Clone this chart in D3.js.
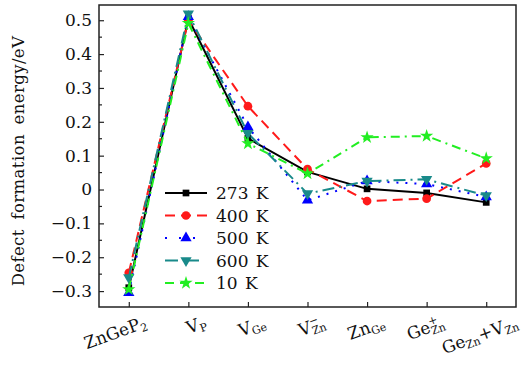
<!DOCTYPE html>
<html>
<head>
<meta charset="utf-8">
<script src="https://cdn.jsdelivr.net/npm/d3@7"></script>
<style>
  body { margin: 0; background: #fff; }
</style>
</head>
<body>
<svg width="529" height="369"></svg>
<script>
// categories along x (main text, subscript, superscript pieces)
const categories = [
  [['ZnGeP', ''], ['2', 'sub']],
  [['V', ''], ['P', 'sub']],
  [['V', ''], ['Ge', 'sub']],
  [['V', ''], ['−', 'sup'], ['Zn', 'sub']],
  [['Zn', ''], ['Ge', 'sub']],
  [['Ge', ''], ['+', 'sup'], ['Zn', 'sub']],
  [['Ge', ''], ['Zn', 'sub'], ['+V', ''], ['Zn', 'sub']]
];
const yTicks = [-0.3, -0.2, -0.1, 0, 0.1, 0.2, 0.3, 0.4, 0.5];

const t273 = [-0.29, 0.505, 0.151, 0.052, 0.002, -0.010, -0.038];
const t400 = [-0.246, 0.500, 0.246, 0.060, -0.034, -0.027, 0.077];
const t500 = [-0.305, 0.510, 0.185, -0.032, 0.025, 0.016, -0.022];
const t600 = [-0.260, 0.519, 0.166, -0.012, 0.025, 0.030, -0.018];
const t10 = [-0.295, 0.491, 0.136, 0.047, 0.154, 0.158, 0.092];

const series = [
  { name: '273 K', values: t273, color: '#000000', dash: null, sym: d3.symbolSquare, size: 45, rot: 0 },
  { name: '400 K', values: t400, color: '#ff1a1a', dash: '10,6', sym: d3.symbolCircle, size: 60, rot: 0 },
  { name: '500 K', values: t500, color: '#0000ff', dash: '2,7', sym: d3.symbolTriangle, size: 55, rot: 0 },
  { name: '600 K', values: t600, color: '#198a8a', dash: '12,5,2,5', sym: d3.symbolTriangle, size: 55, rot: 180 },
  { name: '10 K', values: t10, color: '#22ee22', dash: '9,5,2,5', sym: d3.symbolStar, size: 55, rot: 0 }
];

const FONT = '"DejaVu Serif", "Liberation Serif", serif';
const svg = d3.select('svg');
const mLeft = 99, mRight = 516, mTop = 5, mBottom = 307;

const x = d3.scaleLinear().domain([-0.5, 6.5]).range([mLeft, mRight]);
const y = d3.scaleLinear().domain([-0.347, 0.545]).range([mBottom, mTop]);

// frame
svg.append('rect')
  .attr('x', mLeft).attr('y', mTop)
  .attr('width', mRight - mLeft).attr('height', mBottom - mTop)
  .attr('fill', 'none').attr('stroke', '#222').attr('stroke-width', 1.5);

// y axis, ticks inward
const yAxis = svg.append('g').attr('transform', `translate(${mLeft},0)`)
  .call(d3.axisLeft(y).tickValues(yTicks).tickSizeInner(-5).tickSizeOuter(0).tickPadding(7)
    .tickFormat(d => d === 0 ? '0' : d3.format('.1f')(d).replace('-', '−')));
yAxis.select('.domain').remove();
yAxis.attr('font-family', FONT).attr('font-size', 17);
yAxis.selectAll('text').attr('fill', '#111');
yAxis.selectAll('line').attr('stroke', '#222').attr('stroke-width', 1.2);

// minor y ticks
const minor = d3.range(-0.35, 0.55, 0.1).map(v => +v.toFixed(2)).filter(v => v > -0.347);
svg.append('g').selectAll('line').data(minor).join('line')
  .attr('x1', mLeft).attr('x2', mLeft + 3)
  .attr('y1', d => y(d)).attr('y2', d => y(d))
  .attr('stroke', '#222').attr('stroke-width', 1.2);

// x axis ticks inward
const xAxis = svg.append('g').attr('transform', `translate(0,${mBottom})`)
  .call(d3.axisBottom(x).tickValues(d3.range(categories.length)).tickSizeInner(-5).tickSizeOuter(0).tickFormat(''));
xAxis.select('.domain').remove();
xAxis.selectAll('line').attr('stroke', '#222').attr('stroke-width', 1.2);

// x labels: each piece is its own text, laid out inside a rotated group
const xg = svg.append('g').selectAll('g').data(categories).join('g')
  .attr('transform', (d, i) => `translate(${x(i) + (i === 6 ? 33 : 19)},${mBottom + 20}) rotate(-20)`);
xg.each(function(d) {
  const g = d3.select(this);
  const inner = g.append('g');
  let cx = 0, lastW = 0;
  d.forEach(([txt, kind], j) => {
    const prev = j > 0 ? d[j - 1][1] : '';
    let px = cx;
    if (kind === 'sub' && prev === 'sup') px = cx - lastW;
    const t = inner.append('text')
      .attr('x', px)
      .attr('y', kind === 'sub' ? 3 : kind === 'sup' ? -7 : 0)
      .attr('font-family', FONT)
      .attr('font-size', kind ? 11 : 17)
      .attr('fill', '#111')
      .text(txt);
    const w = t.node().getComputedTextLength();
    lastW = w;
    cx = Math.max(cx, px + w);
  });
  inner.attr('transform', `translate(${-cx},0)`);
});

// y label
svg.append('text')
  .attr('transform', `translate(24,${161}) rotate(-90)`)
  .attr('text-anchor', 'middle')
  .attr('font-family', FONT)
  .attr('font-size', 16.5)
  .attr('letter-spacing', 0.4)
  .attr('word-spacing', 4)
  .attr('fill', '#111')
  .text('Defect formation energy/eV');

// lines and markers
const line = d3.line().x((d, i) => x(i)).y(d => y(d));
const plot = svg.append('g');
series.forEach(s => {
  plot.append('path').datum(s.values)
    .attr('d', line)
    .attr('fill', 'none')
    .attr('stroke', s.color)
    .attr('stroke-width', 2)
    .attr('stroke-dasharray', s.dash);
  plot.append('g').selectAll('path').data(s.values).join('path')
    .attr('d', d3.symbol(s.sym, s.size))
    .attr('transform', (d, i) => `translate(${x(i)},${y(d)}) rotate(${s.rot})`)
    .attr('fill', s.color);
});

// legend
const legend = svg.append('g').selectAll('g').data(series).join('g')
  .attr('transform', (d, i) => `translate(165,${193 + i * 22.5})`);
legend.append('line')
  .attr('x1', 0).attr('x2', 42).attr('y1', 0).attr('y2', 0)
  .attr('stroke', d => d.color).attr('stroke-width', 2.2)
  .attr('stroke-dasharray', (d, i) => [null, '10,6', '2,12', '13,8', '9,6'][i]);
legend.append('path')
  .attr('d', d => d3.symbol(d.sym, d.size)())
  .attr('transform', d => `translate(21,0) rotate(${d.rot})`)
  .attr('fill', d => d.color);
legend.append('text')
  .attr('x', 51).attr('y', 6)
  .attr('font-family', FONT)
  .attr('font-size', 17)
  .attr('word-spacing', 2)
  .attr('fill', '#111')
  .text(d => d.name);
</script>
</body>
</html>
